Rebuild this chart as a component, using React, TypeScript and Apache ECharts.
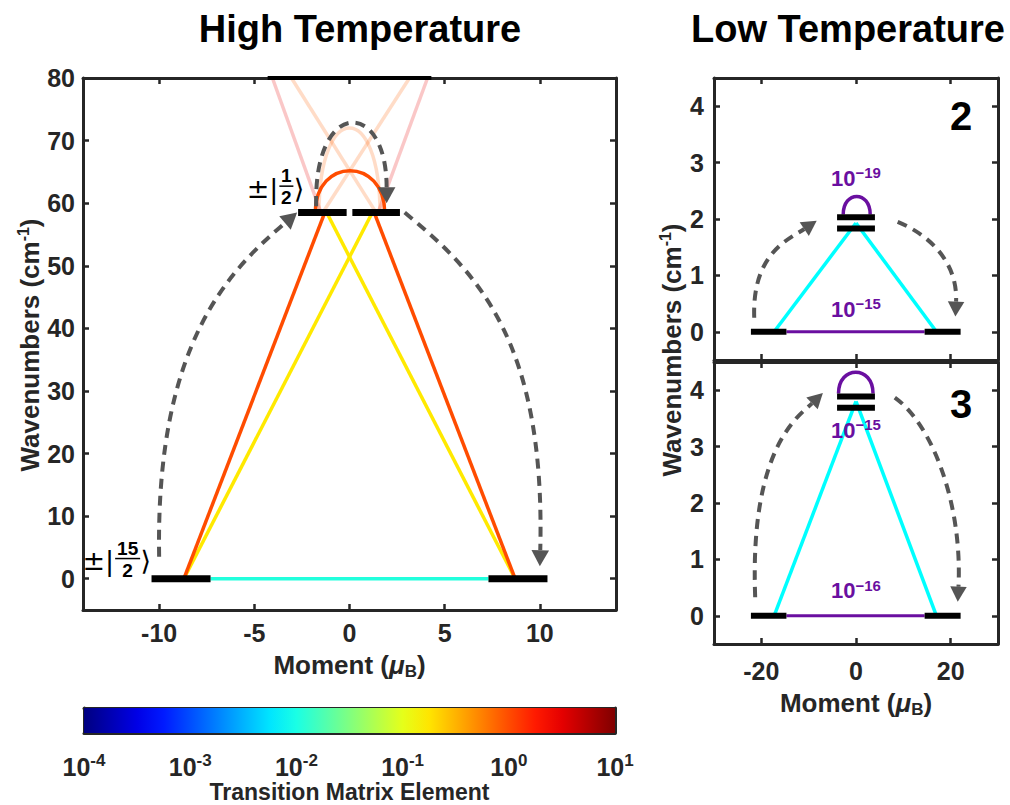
import React, { useEffect, useRef } from 'react';
import * as echarts from 'echarts';

// ---------------- data ----------------
const CBAR_MIN = 1e-4;
const CBAR_MAX = 10;

// High temperature panel
const highXRange = [-14, 14];
const highYRange = [-5, 80];
const highXTicks = [-10, -5, 0, 5, 10];
const highYTicks = [0, 10, 20, 30, 40, 50, 60, 70, 80];
// [xStart, xEnd, wavenumber]
const highLevels = [
  [-10.4, -7.3, 0], [7.3, 10.4, 0],
  [-2.7, -0.15, 58.5], [0.15, 2.65, 58.5],
];
const highTopLevel = [[-4.3, 4.3, 80]];
// [x1, y1, x2, y2, transition matrix element, opacity]
const highTransitions = [
  [-4.05, 80, -1.5, 58.5, 3, 0.22],
  [4.1, 80, 1.5, 58.5, 3, 0.22],
  [-3.05, 80, 1.4, 58.5, 0.8, 0.22],
  [3.15, 80, -1.4, 58.5, 0.8, 0.22],
  [-7.3, 0, 7.3, 0, 0.011, 1],
  [-8.7, 0, 1.2, 58.5, 0.17, 1],
  [8.7, 0, -1.2, 58.5, 0.17, 1],
  [-8.7, 0, -1.3, 58.5, 1.0, 1],
  [8.7, 0, 1.3, 58.5, 1.0, 1],
];
// [xLeft, xRight, base, peak, transition matrix element, opacity]
const highLoops = [
  [-1.6, 1.6, 58.5, 72, 0.8, 0.22],
  [-1.8, 1.85, 58.5, 65.2, 1.0, 1],
];
// cubic curves [x0, y0, c1x, c1y, c2x, c2y, x1, y1]
const highDashed = [
  [-10, 3.5, -10.2, 38, -6.2, 49.5, -2.75, 58.5],
  [-1.75, 59.5, -1.9, 76.8, 1.95, 76.8, 1.95, 60],
  [2.9, 58.5, 6.7, 49, 10.3, 38, 10, 2],
];
const ketPositions = [[-10.42, 2.9], [-2.37, 62.4]];
const ketNumerators = ['15', '1'];
const ketDenominators = ['2', '2'];

// Low temperature panels
const lowXRange = [-30, 30];
const lowYRange = [-0.5, 4.5];
const lowXTicks = [-20, 0, 20];
const lowYTicks = [0, 1, 2, 3, 4];

const low2Levels = [
  [-22.2, -14.7, 0], [14.5, 22.1, 0],
  [-4, 4, 2.03], [-4, 4, 1.83],
];
const low2Transitions = [
  [-17.3, 0, 0, 1.93, 0.0075, 1],
  [17, 0, 0, 1.93, 0.0075, 1],
];
const low2Weak = [[-14.7, 0, 14.5, 0]];
const low2Loops = [[-2.7, 3.0, 2.08, 2.4]];
const low2Dashed = [
  [-21.5, 0.25, -22, 1.4, -14, 1.65, -8.3, 1.97],
  [8.8, 1.95, 16, 1.7, 21.5, 1.2, 21, 0.27],
];
const low2LabelPos = [[0, 2.72], [0, 0.4]];
const low2LabelExp = ['−19', '−15'];

const low3Levels = [
  [-22.2, -14.7, 0], [14.5, 22.1, 0],
  [-4, 4, 3.89], [-4, 4, 3.69],
];
const low3Transitions = [
  [-17.3, 0, 0, 3.8, 0.0075, 1],
  [17, 0, 0, 3.8, 0.0075, 1],
];
const low3Weak = [[-14.7, 0, 14.5, 0]];
const low3Loops = [[-3.7, 3.6, 3.94, 4.32]];
const low3Dashed = [
  [-21.3, 0.33, -22.5, 3.0, -12, 3.55, -7, 3.95],
  [8.2, 3.87, 16, 3.4, 22.5, 2.0, 21.5, 0.25],
];
const low3LabelPos = [[0, 3.29], [0, 0.44]];
const low3LabelExp = ['−15', '−16'];

// ---------------- styles ----------------
const FONT = '"Liberation Sans", Arial, Helvetica, sans-serif';
const AXIS = '#262626';
const DASH = '#555555';
const PURPLE = '#6a0fa0';

function jet(f: number) {
  const c = (v: number) => Math.max(0, Math.min(1, v));
  const r = c(1.5 - Math.abs(4 * f - 3));
  const g = c(1.5 - Math.abs(4 * f - 2));
  const b = c(1.5 - Math.abs(4 * f - 1));
  return [Math.round(r * 255), Math.round(g * 255), Math.round(b * 255)];
}
function valueColor(v: number, alpha = 1) {
  const f = (Math.log10(v) - Math.log10(CBAR_MIN)) / (Math.log10(CBAR_MAX) - Math.log10(CBAR_MIN));
  const [r, g, b] = jet(f);
  return `rgba(${r},${g},${b},${alpha})`;
}

function segSeries(grid: number, data: number[][], width: number, colorFn: (api: any) => string, z: number) {
  return {
    type: 'custom', xAxisIndex: grid * 2, yAxisIndex: grid * 2, data, silent: true, z,
    renderItem: (_p: any, api: any) => {
      const a = api.coord([api.value(0), api.value(1)]);
      const b = api.coord([api.value(2), api.value(3)]);
      return {
        type: 'line',
        shape: { x1: a[0], y1: a[1], x2: b[0], y2: b[1] },
        style: { stroke: colorFn(api), lineWidth: width, lineCap: 'butt' },
      };
    },
  };
}
function levelSeries(grid: number, data: number[][], width: number) {
  return {
    type: 'custom', xAxisIndex: grid * 2, yAxisIndex: grid * 2, data, silent: true, z: 4,
    renderItem: (_p: any, api: any) => {
      const a = api.coord([api.value(0), api.value(2)]);
      const b = api.coord([api.value(1), api.value(2)]);
      return {
        type: 'line',
        shape: { x1: a[0], y1: a[1], x2: b[0], y2: b[1] },
        style: { stroke: '#000', lineWidth: width, lineCap: 'butt' },
      };
    },
  };
}
function loopSeries(grid: number, data: number[][], width: number, colorFn: (api: any) => string) {
  return {
    type: 'custom', xAxisIndex: grid * 2, yAxisIndex: grid * 2, data, silent: true, z: 3,
    renderItem: (_p: any, api: any) => {
      const xl = api.value(0), xr = api.value(1), base = api.value(2), peak = api.value(3);
      const ctrl = base + (4 / 3) * (peak - base);
      const p0 = api.coord([xl, base]);
      const p1 = api.coord([xl, ctrl]);
      const p2 = api.coord([xr, ctrl]);
      const p3 = api.coord([xr, base]);
      return {
        type: 'bezierCurve',
        shape: { x1: p0[0], y1: p0[1], cpx1: p1[0], cpy1: p1[1], cpx2: p2[0], cpy2: p2[1], x2: p3[0], y2: p3[1] },
        style: { stroke: colorFn(api), lineWidth: width, fill: 'none' },
      };
    },
  };
}
function arrowSeries(grid: number, data: number[][], width: number, head: number) {
  return {
    type: 'custom', xAxisIndex: grid * 2, yAxisIndex: grid * 2, data, silent: true, z: 5,
    renderItem: (_p: any, api: any) => {
      const pts = [0, 1, 2, 3].map((i) => api.coord([api.value(2 * i), api.value(2 * i + 1)]));
      const [p0, p1, p2, p3] = pts;
      let dx = p3[0] - p2[0];
      let dy = p3[1] - p2[1];
      const L = Math.hypot(dx, dy) || 1;
      dx /= L; dy /= L;
      const bx = p3[0] - dx * head;
      const by = p3[1] - dy * head;
      const hw = head * 0.55;
      return {
        type: 'group',
        children: [
          {
            type: 'bezierCurve',
            shape: { x1: p0[0], y1: p0[1], cpx1: p1[0], cpy1: p1[1], cpx2: p2[0], cpy2: p2[1], x2: bx, y2: by },
            style: { stroke: DASH, lineWidth: width, lineDash: [10, 7], fill: 'none' },
          },
          {
            type: 'polygon',
            shape: { points: [[p3[0], p3[1]], [bx - dy * hw, by + dx * hw], [bx + dy * hw, by - dx * hw]] },
            style: { fill: DASH },
          },
        ],
      };
    },
  };
}
function expLabelSeries(grid: number, pos: number[][], exps: string[]) {
  return {
    type: 'custom', xAxisIndex: grid * 2, yAxisIndex: grid * 2, data: pos, silent: true, z: 6,
    renderItem: (p: any, api: any) => {
      const c = api.coord([api.value(0), api.value(1)]);
      return {
        type: 'text', x: c[0], y: c[1],
        style: {
          text: `{b|10}{s|${exps[p.dataIndex]}}`,
          align: 'center', verticalAlign: 'middle',
          rich: {
            b: { fontSize: 22, fontWeight: 'bold', fontFamily: FONT, fill: PURPLE, lineHeight: 26 },
            s: { fontSize: 15, fontWeight: 'bold', fontFamily: FONT, fill: PURPLE, lineHeight: 15, verticalAlign: 'top' },
          },
        },
      };
    },
  };
}
function ketSeries() {
  return {
    type: 'custom', xAxisIndex: 0, yAxisIndex: 0, data: ketPositions, silent: true, z: 6,
    renderItem: (p: any, api: any) => {
      const c = api.coord([api.value(0), api.value(1)]);
      const R = c[0], C = c[1];
      const num = ketNumerators[p.dataIndex];
      const den = ketDenominators[p.dataIndex];
      const bw = Math.max(num.length, den.length) * 11 + 3;
      const fx = R - 11 - bw / 2;
      const big = '27px "DejaVu Sans", sans-serif';
      const small = `bold 19px ${FONT}`;
      return {
        type: 'group',
        children: [
          { type: 'text', x: R, y: C, style: { text: '⟩', font: big, fill: '#000', align: 'right', verticalAlign: 'middle' } },
          { type: 'text', x: fx, y: C - 3, style: { text: num, font: small, fill: '#000', align: 'center', verticalAlign: 'bottom' } },
          { type: 'line', shape: { x1: fx - bw / 2, y1: C - 2, x2: fx + bw / 2, y2: C - 2 }, style: { stroke: '#000', lineWidth: 1.5 } },
          { type: 'text', x: fx, y: C, style: { text: den, font: small, fill: '#000', align: 'center', verticalAlign: 'top' } },
          { type: 'text', x: fx - bw / 2 - 1, y: C, style: { text: '±|', font: big, fill: '#000', align: 'right', verticalAlign: 'middle' } },
        ],
      };
    },
  };
}

const tick = (vals: number[] | undefined) => ({
  show: true, inside: true, length: 6, ...(vals ? { customValues: vals } : {}),
  lineStyle: { color: AXIS, width: 2.5 },
});
const axLine = { show: true, onZero: false, lineStyle: { color: AXIS, width: 3 } };
const lbl = (vals: number[], margin: number) => ({
  show: true, customValues: vals, margin, color: AXIS, fontFamily: FONT, fontWeight: 'bold', fontSize: 25,
});
const nameStyle = {
  color: AXIS, fontFamily: FONT, fontWeight: 'bold', fontSize: 26, lineHeight: 30,
  rich: {
    mu: { color: AXIS, fontFamily: FONT, fontWeight: 'bold', fontStyle: 'italic', fontSize: 26, lineHeight: 30 },
    sub: { color: AXIS, fontFamily: FONT, fontWeight: 'bold', fontSize: 17, lineHeight: 17, verticalAlign: 'bottom' },
  },
};
const MOMENT = 'Moment ({mu|μ}{sub|B})';
const WAVE = 'Wavenumbers (cm{sup|-1})';

function xPair(grid: number, range: number[], ticks: number[], bottom: any) {
  const base = { type: 'value', gridIndex: grid, min: range[0], max: range[1], splitLine: { show: false }, axisLine: axLine, axisTick: tick(ticks) };
  return [
    { ...base, position: 'bottom', ...bottom },
    { ...base, position: 'top', axisLabel: { show: false } },
  ];
}
function yPair(grid: number, range: number[], ticks: number[], left: any) {
  const base = { type: 'value', gridIndex: grid, min: range[0], max: range[1], splitLine: { show: false }, axisLine: axLine, axisTick: tick(ticks) };
  return [
    { ...base, position: 'left', ...left },
    { ...base, position: 'right', axisLabel: { show: false } },
  ];
}
function yName(x: number, y: number) {
  return {
    type: 'text', x, y, rotation: Math.PI / 2,
    style: {
      text: WAVE, fill: AXIS, font: `bold 26px ${FONT}`, lineHeight: 30, align: 'center', verticalAlign: 'middle',
      rich: { sup: { fill: AXIS, font: `bold 16px ${FONT}`, lineHeight: 16, verticalAlign: 'top' } },
    },
  };
}

function buildOption() {
  const stops = [] as any[];
  for (let i = 0; i <= 20; i++) {
    const [r, g, b] = jet(i / 20);
    stops.push({ offset: i / 20, color: `rgb(${r},${g},${b})` });
  }
  const cbRich = {
    b: { fontSize: 25, fontWeight: 'bold', fontFamily: FONT, color: AXIS, lineHeight: 30 },
    s: { fontSize: 17, fontWeight: 'bold', fontFamily: FONT, color: AXIS, lineHeight: 17, verticalAlign: 'top' },
  };
  const gridBase = { containLabel: false, outerBoundsMode: 'none' };
  return {
    animation: false,
    backgroundColor: '#ffffff',
    grid: [
      { ...gridBase, left: 83, top: 78, width: 533, height: 532 },
      { ...gridBase, left: 714, top: 78, width: 284, height: 282 },
      { ...gridBase, left: 714, top: 362, width: 284, height: 282 },
      { ...gridBase, left: 84, top: 708, width: 531, height: 25 },
    ],
    xAxis: [
      ...xPair(0, highXRange, highXTicks, {
        axisLabel: lbl(highXTicks, 10), name: MOMENT, nameLocation: 'middle', nameGap: 38, nameTextStyle: nameStyle,
      }),
      ...xPair(1, lowXRange, lowXTicks, { axisLabel: { show: false } }),
      ...xPair(2, lowXRange, lowXTicks, {
        axisLabel: lbl(lowXTicks, 14), name: MOMENT, nameLocation: 'middle', nameGap: 44, nameTextStyle: nameStyle,
      }),
      {
        type: 'log', logBase: 10, gridIndex: 3, min: CBAR_MIN, max: CBAR_MAX, position: 'bottom',
        splitLine: { show: false }, axisLine: axLine, axisTick: tick(undefined),
        axisLabel: {
          show: true, margin: 19,
          formatter: (v: number) => `{b|10}{s|${Math.round(Math.log10(v))}}`, rich: cbRich,
        },
        name: 'Transition Matrix Element', nameLocation: 'middle', nameGap: 46,
        nameTextStyle: { color: AXIS, fontFamily: FONT, fontWeight: 'bold', fontSize: 23, lineHeight: 24 },
      },
      {
        type: 'log', logBase: 10, gridIndex: 3, min: CBAR_MIN, max: CBAR_MAX, position: 'top',
        splitLine: { show: false }, axisLine: axLine, axisTick: { show: false }, axisLabel: { show: false },
      },
    ],
    yAxis: [
      ...yPair(0, highYRange, highYTicks, { axisLabel: lbl(highYTicks, 8) }),
      ...yPair(1, lowYRange, lowYTicks, { axisLabel: lbl(lowYTicks, 10) }),
      ...yPair(2, lowYRange, lowYTicks, { axisLabel: lbl(lowYTicks, 10) }),
      { type: 'value', gridIndex: 3, min: 0, max: 1, position: 'left', splitLine: { show: false }, axisLine: axLine, axisTick: { show: false }, axisLabel: { show: false } },
      { type: 'value', gridIndex: 3, min: 0, max: 1, position: 'right', splitLine: { show: false }, axisLine: axLine, axisTick: { show: false }, axisLabel: { show: false } },
    ],
    series: [
      // high temperature
      segSeries(0, highTransitions, 3.5, (api) => valueColor(api.value(4), api.value(5)), 2),
      loopSeries(0, highLoops, 3.5, (api) => valueColor(api.value(4), api.value(5))),
      levelSeries(0, highLevels, 7),
      levelSeries(0, highTopLevel, 4),
      arrowSeries(0, highDashed, 4, 16),
      ketSeries(),
      // low temperature, top
      segSeries(1, low2Weak, 3, () => PURPLE, 2),
      segSeries(1, low2Transitions, 3.5, (api) => valueColor(api.value(4), api.value(5)), 2),
      loopSeries(1, low2Loops, 3.5, () => PURPLE),
      levelSeries(1, low2Levels, 6),
      arrowSeries(1, low2Dashed, 4, 15),
      expLabelSeries(1, low2LabelPos, low2LabelExp),
      // low temperature, bottom
      segSeries(2, low3Weak, 3, () => PURPLE, 2),
      segSeries(2, low3Transitions, 3.5, (api) => valueColor(api.value(4), api.value(5)), 2),
      loopSeries(2, low3Loops, 3.5, () => PURPLE),
      levelSeries(2, low3Levels, 6),
      arrowSeries(2, low3Dashed, 4, 15),
      expLabelSeries(2, low3LabelPos, low3LabelExp),
      // colour bar
      {
        type: 'custom', xAxisIndex: 6, yAxisIndex: 6, data: [[CBAR_MIN, 0]], silent: true, z: 1,
        renderItem: (_p: any, api: any) => {
          const a = api.coord([CBAR_MIN, 1]);
          const b = api.coord([CBAR_MAX, 0]);
          return {
            type: 'rect',
            shape: { x: a[0], y: a[1], width: b[0] - a[0], height: b[1] - a[1] },
            style: { fill: new echarts.graphic.LinearGradient(0, 0, 1, 0, stops) },
          };
        },
      },
    ],
    graphic: [
      { type: 'text', x: 360, y: 29, style: { text: 'High Temperature', font: `bold 38px ${FONT}`, fill: '#000', align: 'center', verticalAlign: 'middle' } },
      { type: 'text', x: 848, y: 29, style: { text: 'Low Temperature', font: `bold 38px ${FONT}`, fill: '#000', align: 'center', verticalAlign: 'middle' } },
      { type: 'text', x: 961, y: 116, style: { text: '2', font: `bold 40px ${FONT}`, fill: '#000', align: 'center', verticalAlign: 'middle' } },
      { type: 'text', x: 961, y: 404, style: { text: '3', font: `bold 40px ${FONT}`, fill: '#000', align: 'center', verticalAlign: 'middle' } },
      yName(30, 345),
      yName(672, 350),
    ],
  };
}

export default function App() {
  const ref = useRef<HTMLDivElement>(null);
  useEffect(() => {
    document.body.style.margin = '0';
    const chart = echarts.init(ref.current!, undefined, { renderer: 'svg' });
    chart.setOption(buildOption() as any);
    return () => chart.dispose();
  }, []);
  return <div ref={ref} style={{ width: 1010, height: 805 }} />;
}
